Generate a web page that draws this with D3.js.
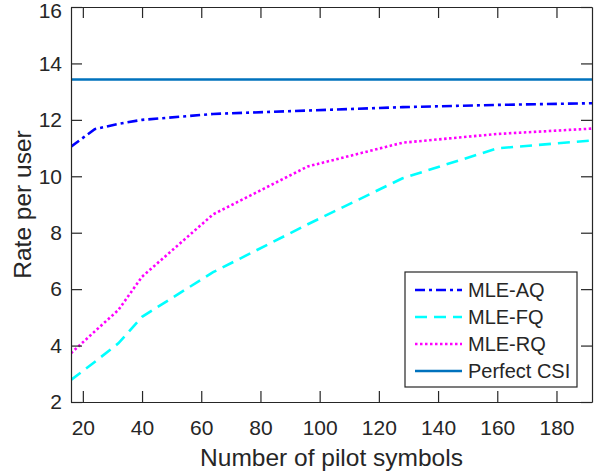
<!DOCTYPE html>
<html>
<head>
<meta charset="utf-8">
<script src="https://cdn.jsdelivr.net/npm/d3@7"></script>
<style>
  body { margin: 0; background: #fff; }
  text { font-family: "Liberation Sans", Arial, sans-serif; fill: #262626; }
</style>
</head>
<body>
<svg id="chart" width="606" height="476"></svg>
<script>
// pilot lengths and rates
const pilots = [16, 24, 32, 40, 64, 96, 128, 160, 192];
const mleAQ = [11.05, 11.67, 11.86, 12.0, 12.21, 12.33, 12.45, 12.53, 12.59];
const mleFQ = [2.78, 3.42, 4.08, 5.02, 6.6, 8.3, 9.93, 10.99, 11.27];
const mleRQ = [3.73, 4.5, 5.26, 6.44, 8.65, 10.35, 11.19, 11.5, 11.69];
const perfectCSI = 13.43;
const xTicks = [20, 40, 60, 80, 100, 120, 140, 160, 180];
const yTicks = [2, 4, 6, 8, 10, 12, 14, 16];

const series = [
  {name: "MLE-AQ", vals: mleAQ, color: "#0000ff", dash: "10,4,3,4"},
  {name: "MLE-FQ", vals: mleFQ, color: "#00ffff", dash: "12,7"},
  {name: "MLE-RQ", vals: mleRQ, color: "#ff00ff", dash: "2.5,2.5"},
  {name: "Perfect CSI", vals: pilots.map(() => perfectCSI), color: "#0072bd", dash: null}
];

const margin = {left: 71, right: 14, top: 7, bottom: 74};
const W = 606, H = 476;
const svg = d3.select("#chart");
const x = d3.scaleLinear().domain([16, 192]).range([margin.left, W - margin.right]);
const y = d3.scaleLinear().domain([2, 16]).range([H - margin.bottom, margin.top]);
const axisCol = "#262626";
const TL = 11; // tick length

svg.append("defs").append("clipPath").attr("id", "clip")
  .append("rect")
  .attr("x", x.range()[0]).attr("y", y.range()[1])
  .attr("width", x.range()[1] - x.range()[0])
  .attr("height", y.range()[0] - y.range()[1]);

// lines
const line = d3.line().x((d, i) => x(pilots[i])).y(d => y(d));
const gl = svg.append("g").attr("clip-path", "url(#clip)");
series.forEach(s => {
  gl.append("path")
    .attr("d", line(s.vals))
    .attr("fill", "none")
    .attr("stroke", s.color)
    .attr("stroke-width", 2.6)
    .attr("stroke-dasharray", s.dash);
});

// axes (box on, ticks inward on all sides)
const axB = svg.append("g").attr("transform", `translate(0,${y(2)})`)
  .call(d3.axisBottom(x).tickValues(xTicks).tickSizeInner(-TL).tickSizeOuter(0).tickPadding(18));
const axT = svg.append("g").attr("transform", `translate(0,${y(16)})`)
  .call(d3.axisTop(x).tickValues(xTicks).tickSizeInner(-TL).tickSizeOuter(0).tickFormat(""));
const axL = svg.append("g").attr("transform", `translate(${x(16)},0)`)
  .call(d3.axisLeft(y).tickValues(yTicks).tickSizeInner(-TL).tickSizeOuter(0).tickPadding(9));
const axR = svg.append("g").attr("transform", `translate(${x(192)},0)`)
  .call(d3.axisRight(y).tickValues(yTicks).tickSizeInner(-TL).tickSizeOuter(0).tickFormat(""));

[axB, axT, axL, axR].forEach(g => {
  g.selectAll("path.domain").attr("stroke", axisCol).attr("stroke-width", 1.2);
  g.selectAll(".tick line").attr("stroke", axisCol).attr("stroke-width", 1.2);
  g.selectAll(".tick text").style("font-size", "21px").attr("fill", axisCol)
    .style("font-family", "'Liberation Sans', Arial, sans-serif");
});
// top label sits a little lower so it stays inside the figure
axL.selectAll(".tick text").filter(d => d === 16).attr("y", 4);

// axis labels
svg.append("text")
  .attr("x", (x.range()[0] + x.range()[1]) / 2).attr("y", 466)
  .attr("text-anchor", "middle").style("font-size", "24.5px")
  .text("Number of pilot symbols");
svg.append("text")
  .attr("transform", `translate(31,${(y.range()[0] + y.range()[1]) / 2}) rotate(-90)`)
  .attr("text-anchor", "middle").style("font-size", "24.5px")
  .text("Rate per user");

// legend
const lg = svg.append("g").attr("transform", "translate(405,272)");
lg.append("rect").attr("width", 172).attr("height", 115)
  .attr("fill", "#fff").attr("stroke", axisCol).attr("stroke-width", 1.2);
series.forEach((s, i) => {
  const ry = 18 + i * 27;
  lg.append("line").attr("x1", 10).attr("x2", 57).attr("y1", ry).attr("y2", ry)
    .attr("stroke", s.color).attr("stroke-width", 2.6).attr("stroke-dasharray", s.dash);
  lg.append("text").attr("x", 63).attr("y", ry + 7).style("font-size", "20px")
    .attr("fill", "#000").text(s.name);
});
</script>
</body>
</html>
